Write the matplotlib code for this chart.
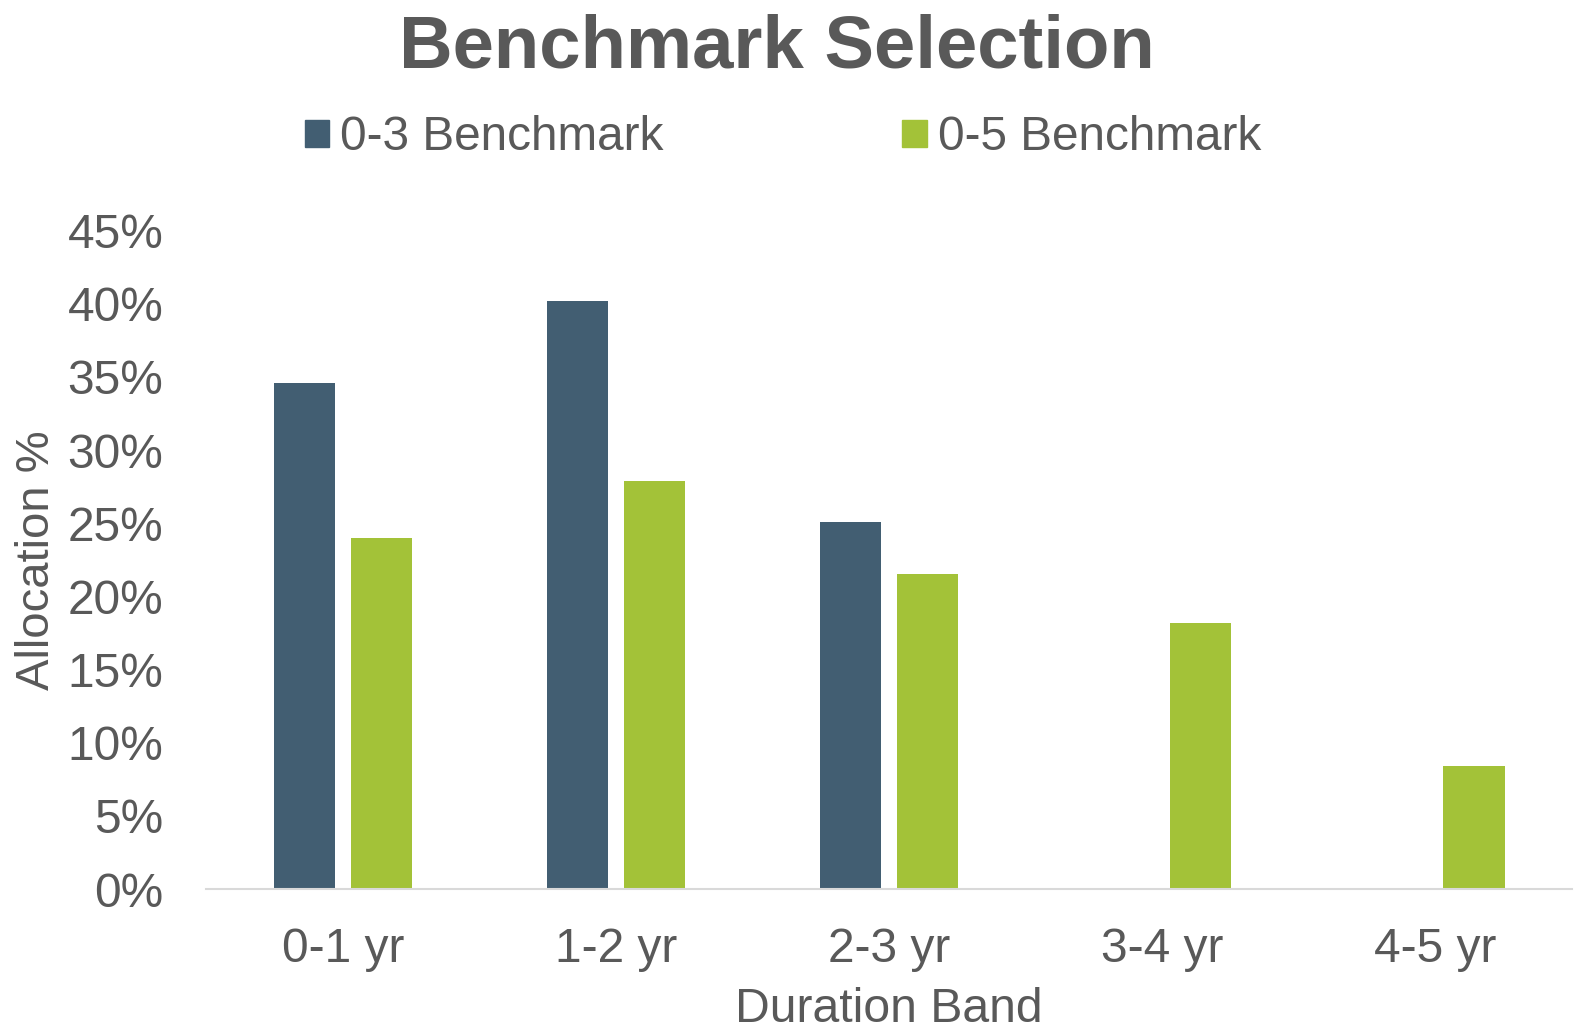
import numpy as np
import matplotlib
matplotlib.use("Agg")
import matplotlib.pyplot as plt
from matplotlib.patches import Patch

# Values (allocation %)
bands = ["0-1 yr", "1-2 yr", "2-3 yr", "3-4 yr", "4-5 yr"]
bench_03 = [34.6, 40.2, 25.1, 0.0, 0.0]
bench_05 = [24.0, 27.9, 21.5, 18.2, 8.4]
series_names = ["0-3 Benchmark", "0-5 Benchmark"]
yticks = [0, 5, 10, 15, 20, 25, 30, 35, 40, 45]

DARK = "#425E72"
GREEN = "#A3C238"
TEXT = "#595959"

plt.rcParams["font.family"] = ["Liberation Sans", "DejaVu Sans"]

fig = plt.figure(figsize=(15.75, 10.29), dpi=100)
ax = fig.add_axes([0.131, 0.136, 0.867, 0.640])

x = np.arange(len(bands))
w = 0.224
off = 0.1415
ax.bar(x - off, bench_03, width=w, color=DARK)
ax.bar(x + off, bench_05, width=w, color=GREEN)

ax.set_xlim(-0.5, len(bands) - 0.5)
ax.set_ylim(0, 45)
ax.set_yticks(yticks)
ax.set_yticklabels([f"{v}%" for v in yticks])
ax.set_xticks(x)
ax.set_xticklabels(bands)
ax.tick_params(axis="both", length=0, labelsize=34.5, colors=TEXT)
ax.tick_params(axis="x", pad=27)
ax.tick_params(axis="y", pad=31)

for s in ["top", "right", "left"]:
    ax.spines[s].set_visible(False)
ax.spines["bottom"].set_color("#D9D9D9")
ax.spines["bottom"].set_linewidth(1.5)

ax.set_ylabel("Allocation %", fontsize=34, color=TEXT, labelpad=6)
ax.set_xlabel("Duration Band", fontsize=34.7, color=TEXT, labelpad=11)

fig.text(0.493, 0.953, "Benchmark Selection", ha="center", va="center",
         fontsize=53.6, fontweight="bold", color=TEXT)

handles = [Patch(color=DARK), Patch(color=GREEN)]
fig.legend(handles, series_names, loc="center", bbox_to_anchor=(0.497, 0.866),
           ncol=2, frameon=False, fontsize=34.4, labelcolor=TEXT,
           handlelength=0.52, handleheight=0.52, handletextpad=0.22,
           columnspacing=5.0)

fig.savefig("out.png", dpi=100)
